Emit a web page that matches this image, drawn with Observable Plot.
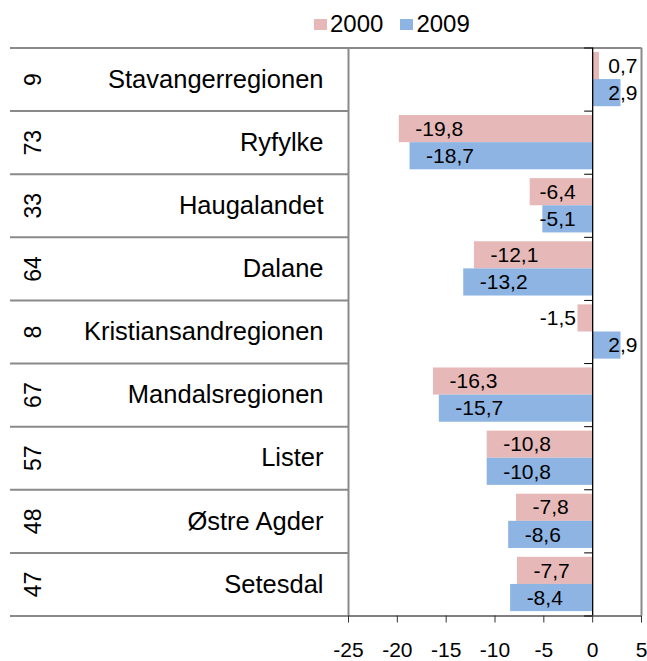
<!DOCTYPE html>
<html>
<head>
<meta charset="utf-8">
<script src="https://cdn.jsdelivr.net/npm/d3@7"></script>
<script src="https://cdn.jsdelivr.net/npm/@observablehq/plot@0.6"></script>
<style>
  html, body { margin: 0; padding: 0; background: #fff; }
  #wrap { position: relative; width: 647px; height: 661px; font-family: "Liberation Sans", Arial, sans-serif; }
  #legend { position: absolute; left: 314px; top: 10px; display: flex; align-items: center; font-size: 24px; color: #000; z-index: 2; }
  .item { display: flex; align-items: center; margin-right: 17px; }
  .sw { width: 13px; height: 11px; margin-right: 3px; }
  #chart { position: absolute; left: 0; top: 0; }
</style>
</head>
<body>
<div id="wrap">
  <div id="legend"></div>
  <div id="chart"></div>
</div>
<script>
const codes = [9, 73, 33, 64, 8, 67, 57, 48, 47];
const regions = ["Stavangerregionen", "Ryfylke", "Haugalandet", "Dalane", "Kristiansandregionen", "Mandalsregionen", "Lister", "Østre Agder", "Setesdal"];
const v2000 = [0.7, -19.8, -6.4, -12.1, -1.5, -16.3, -10.8, -7.8, -7.7];
const v2009 = [2.9, -18.7, -5.1, -13.2, 2.9, -15.7, -10.8, -8.6, -8.4];
const years = ["2000", "2009"];
const xTicks = [-25, -20, -15, -10, -5, 0, 5];
const colors = ["#E6B9B8", "#8DB4E2"];

// legend
const legend = document.getElementById("legend");
years.forEach((y, k) => {
  const it = document.createElement("div");
  it.className = "item";
  it.innerHTML = `<div class="sw" style="background:${colors[k]}"></div><span>${y}</span>`;
  legend.appendChild(it);
});

// tidy rows
const rows = [];
regions.forEach((r, i) => {
  rows.push({i, region: r, year: years[0], slot: 0, value: v2000[i]});
  rows.push({i, region: r, year: years[1], slot: 1, value: v2009[i]});
});
const yTop = d => d.i + (d.slot ? 0.5 : 0.07);
const yBot = d => d.i + (d.slot ? 0.93 : 0.5);
const yMid = d => (yTop(d) + yBot(d)) / 2;
const fmt = v => String(v).replace(".", ",");
const boundaries = d3.range(0, regions.length + 1);
const gray = "#8a8a8a";

const negLong = rows.filter(d => d.value <= -7);
const negMid = rows.filter(d => d.value < -2 && d.value > -7);
const negShort = rows.filter(d => d.value < 0 && d.value >= -2);
const pos = rows.filter(d => d.value > 0);

const chart = Plot.plot({
  width: 647,
  height: 661,
  marginLeft: 348,
  marginRight: 6,
  marginTop: 47.5,
  marginBottom: 45.5,
  style: {fontFamily: "'Liberation Sans', Arial, sans-serif", background: "transparent", color: "#000"},
  x: {domain: [-25, 5], axis: null, label: null},
  y: {domain: [regions.length, 0], axis: null},
  marks: [
    Plot.rectX(rows, {x1: 0, x2: "value", y1: yTop, y2: yBot, fill: d => colors[d.slot]}),
    // table lines
    Plot.ruleY(boundaries, {y: d => d, x1: -25, x2: -25, insetLeft: -338, stroke: gray, strokeWidth: 2}),
    // plot frame
    Plot.ruleY([0], {stroke: gray, strokeWidth: 2}),
    Plot.ruleX([-25, 5], {stroke: gray, strokeWidth: 2}),
    Plot.ruleY([regions.length], {stroke: "#555", strokeWidth: 1.5}),
    // zero axis + category ticks
    Plot.ruleX([0], {stroke: "#000", strokeWidth: 1.3}),
    Plot.ruleY(boundaries, {y: d => d, x1: 0, x2: 0, insetLeft: -8, stroke: "#000", strokeWidth: 1}),
    Plot.axisX({ticks: xTicks, tickSize: 7, tickPadding: 19, fontSize: 21, tickFormat: d => String(d), stroke: "#333", label: null}),
    // table text
    Plot.text(regions, {y: (d, i) => i + 0.5, text: d => d, frameAnchor: "left", dx: -25, textAnchor: "end", fontSize: 25.5, fill: "#000"}),
    Plot.text(codes, {y: (d, i) => i + 0.5, text: d => String(d), frameAnchor: "left", dx: -315, rotate: -90, textAnchor: "middle", fontSize: 23, fill: "#000"}),
    // value labels
    Plot.text(negLong, {x: "value", y: yMid, text: d => fmt(d.value), textAnchor: "start", dx: 16, fontSize: 21, fill: "#000"}),
    Plot.text(negMid, {x: () => 0, y: yMid, text: d => fmt(d.value), textAnchor: "end", dx: -17, fontSize: 21, fill: "#000"}),
    Plot.text(negShort, {x: "value", y: yMid, text: d => fmt(d.value), textAnchor: "end", dx: -2, fontSize: 21, fill: "#000"}),
    Plot.text(pos, {y: yMid, text: d => fmt(d.value), frameAnchor: "right", textAnchor: "end", dx: -4, fontSize: 21, fill: "#000"})
  ]
});
document.getElementById("chart").appendChild(chart);
</script>
</body>
</html>
